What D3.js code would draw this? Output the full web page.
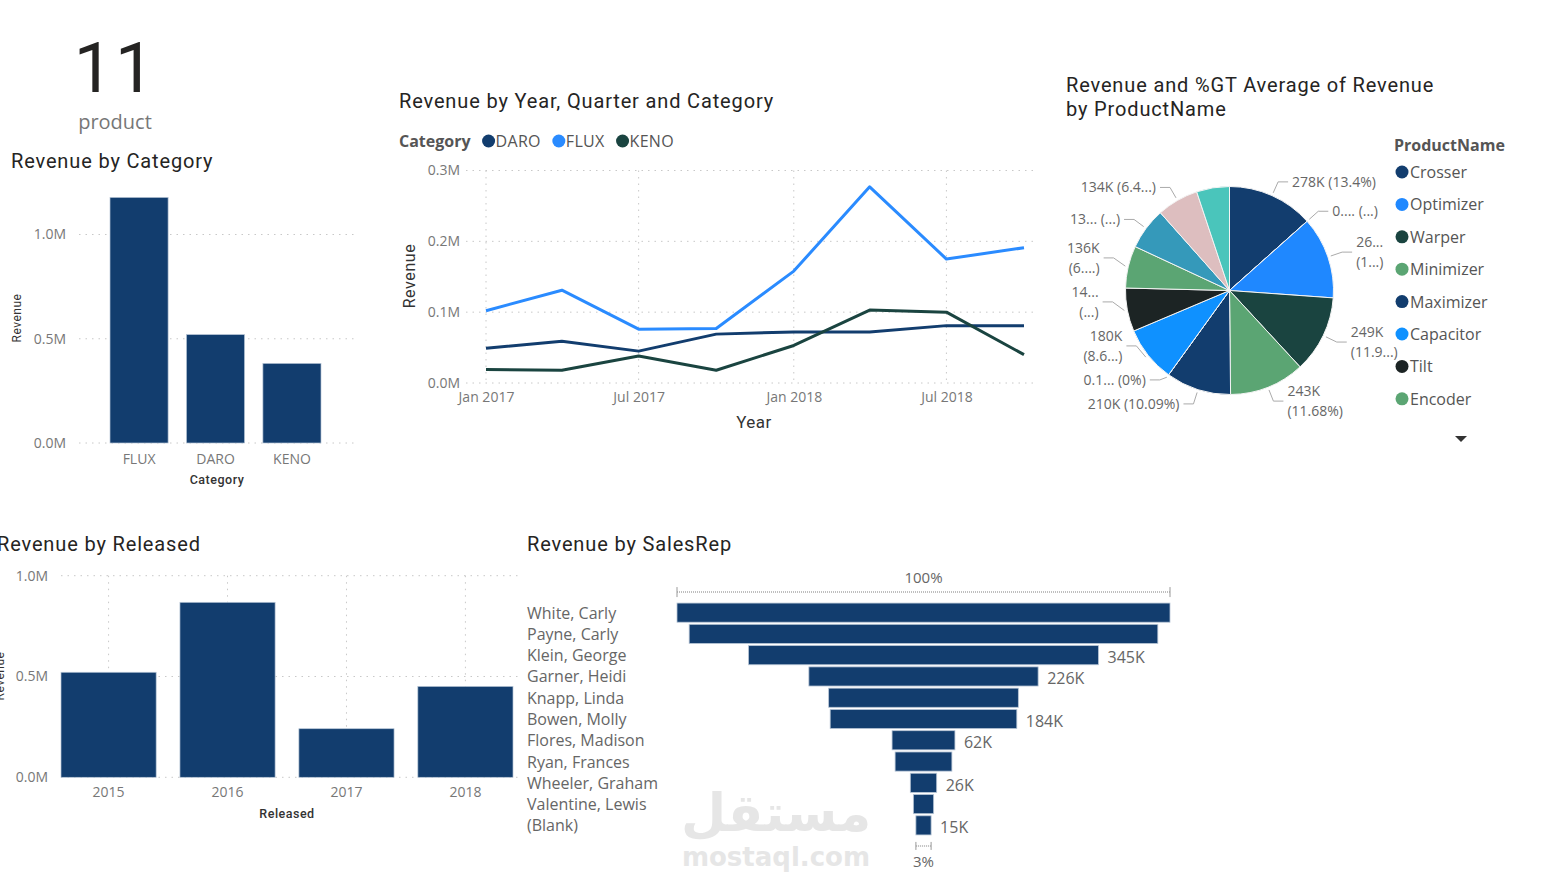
<!DOCTYPE html>
<html><head><meta charset="utf-8">
<script src="https://cdn.jsdelivr.net/npm/d3@7"></script>
<style>
body{margin:0;background:#fff;overflow:hidden}
svg{display:block}
text{font-family:"Open Sans",sans-serif}
.title{font-family:Roboto,sans-serif;font-size:20px;fill:#252423;letter-spacing:0.85px}
</style></head><body>
<svg id="c" width="1554" height="890"></svg>
<script>
// ---------- DATA ----------
const kpiValue = "11";
const kpiLabel = "product";

const categories = ["FLUX", "DARO", "KENO"];
const categoryRevenue = [1.178, 0.520, 0.382];          // M
const categoryTicks = [0, 0.5, 1.0];

const quarterDates = ["2017-01-01","2017-04-01","2017-07-01","2017-10-01","2018-01-01","2018-04-01","2018-07-01","2018-10-01"];
const lineSeriesNames = ["DARO", "FLUX", "KENO"];
const daroRevenue = [0.049, 0.059, 0.045, 0.069, 0.072, 0.072, 0.081, 0.081]; // M
const fluxRevenue = [0.102, 0.131, 0.076, 0.077, 0.158, 0.277, 0.175, 0.191];
const kenoRevenue = [0.019, 0.018, 0.038, 0.018, 0.053, 0.103, 0.100, 0.040];
const lineYTicks = [0, 0.1, 0.2, 0.3];
const lineXTicks = ["2017-01-01","2017-07-01","2018-01-01","2018-07-01"];

const productNames = ["Crosser","Product 12","Optimizer","Warper","Minimizer","Maximizer","Product 13","Capacitor","Tilt","Encoder","Product 9","Product 10","Product 11"];
const productRevenue = [278, 0.4, 264, 249, 243, 210, 0.15, 180, 140, 136, 135, 134, 106]; // K
const productLabels = ["278K (13.4%)", "0.... (...)", "26...|(1...)", "249K|(11.9...)", "243K|(11.68%)", "210K (10.09%)", "0.1... (0%)", "180K|(8.6...)", "14...|(...)", "136K|(6....)", "13... (...)", "134K (6.4...)", ""];
const productColors = ["#123D6E","#9aa5b1","#1F88FF","#1A4440","#5BA573","#123D6E","#9aa5b1","#0F91FF","#1C2424","#5BA573","#3599BA","#DDBEBF","#4AC5BB"];
const legendProducts = ["Crosser","Optimizer","Warper","Minimizer","Maximizer","Capacitor","Tilt","Encoder"];

const releasedYears = ["2015", "2016", "2017", "2018"];
const releasedRevenue = [0.521, 0.868, 0.241, 0.451];   // M
const releasedTicks = [0, 0.5, 1.0];

const salesReps = ["White, Carly","Payne, Carly","Klein, George","Garner, Heidi","Knapp, Linda","Bowen, Molly","Flores, Madison","Ryan, Frances","Wheeler, Graham","Valentine, Lewis","(Blank)"];
const repRevenue = [486, 462, 345, 226, 187, 184, 62, 56, 26, 20, 15]; // K
const repLabelShown = [false,false,true,true,false,true,true,false,true,false,true];

// ---------- STYLE ----------
const NAVY = "#123D6E";
const lineColors = {DARO:"#123D6E", FLUX:"#2A8BFF", KENO:"#1A4440"};
const GRID = "#c8c8c8";
const TICK = "#777";

const svg = d3.select("#c");
const fmtM = v => d3.format(".1f")(v) + "M";

function styleAxis(g, size){
  g.select(".domain").remove();
  g.selectAll(".tick line").remove();
  g.selectAll("text").attr("fill", TICK).style("font-size", size + "px").style("font-family","Open Sans");
}

// ---------- KPI ----------
svg.append("text").attr("x",115).attr("y",92).attr("text-anchor","middle")
  .style("font-family","Roboto").style("font-size","70px").style("letter-spacing","2px").attr("fill","#252423").text(kpiValue);
svg.append("text").attr("x",115).attr("y",129).attr("text-anchor","middle")
  .style("font-family","Open Sans").style("font-size","20px").attr("fill","#777").text(kpiLabel);

// ---------- Revenue by Category ----------
svg.append("text").attr("class","title").attr("x",11).attr("y",168).text("Revenue by Category");
{
  const x = d3.scaleBand().domain(categories).range([110,321]).paddingInner(0.24).paddingOuter(0);
  const y = d3.scaleLinear().domain([0,1]).range([443,234.5]);
  svg.append("g").selectAll("line").data(categoryTicks).join("line")
    .attr("x1",79).attr("x2",357).attr("y1",d=>y(d)).attr("y2",d=>y(d))
    .attr("stroke",GRID).attr("stroke-dasharray","1.5,5");
  svg.append("g").selectAll("rect").data(categories).join("rect")
    .attr("x",d=>x(d)).attr("width",x.bandwidth())
    .attr("y",(d,i)=>y(categoryRevenue[i])).attr("height",(d,i)=>y(0)-y(categoryRevenue[i]))
    .attr("fill",NAVY).attr("stroke","#b8c6d6").attr("stroke-width",0.7);
  const ya = svg.append("g").attr("transform","translate(70,0)")
    .call(d3.axisLeft(y).tickValues(categoryTicks).tickFormat(fmtM).tickSize(0).tickPadding(4));
  styleAxis(ya,14);
  const xa = svg.append("g").attr("transform","translate(0,450)")
    .call(d3.axisBottom(x).tickSize(0).tickPadding(4));
  styleAxis(xa,14);
  svg.append("text").attr("transform","translate(21,318) rotate(-90)").attr("text-anchor","middle")
    .style("font-family","Roboto").style("font-size","12px").style("letter-spacing","0.5px").attr("fill","#333").text("Revenue");
  svg.append("text").attr("x",217).attr("y",484).attr("text-anchor","middle")
    .style("font-family","Roboto").style("font-size","12.5px").style("font-weight","500").style("letter-spacing","0.5px").attr("fill","#333").text("Category");
}

// ---------- Line chart ----------
svg.append("text").attr("class","title").attr("x",399).attr("y",108).text("Revenue by Year, Quarter and Category");
{
  const parse = d3.timeParse("%Y-%m-%d");
  const dates = quarterDates.map(parse);
  const x = d3.scaleTime().domain([dates[0], dates[dates.length-1]]).range([486,1024]);
  const y = d3.scaleLinear().domain([0,0.3]).range([383,170.5]);
  const gx = lineXTicks.map(parse);
  svg.append("g").selectAll("line").data(lineYTicks).join("line")
    .attr("x1",466).attr("x2",1035).attr("y1",d=>y(d)).attr("y2",d=>y(d))
    .attr("stroke",GRID).attr("stroke-dasharray","1.5,5");
  svg.append("g").selectAll("line").data(gx).join("line")
    .attr("x1",d=>x(d)).attr("x2",d=>x(d)).attr("y1",y(0.3)).attr("y2",y(0))
    .attr("stroke",GRID).attr("stroke-dasharray","1.5,5");
  const ya = svg.append("g").attr("transform","translate(464,0)")
    .call(d3.axisLeft(y).tickValues(lineYTicks).tickFormat(fmtM).tickSize(0).tickPadding(4));
  styleAxis(ya,14);
  const xa = svg.append("g").attr("transform","translate(0,390)")
    .call(d3.axisBottom(x).tickValues(gx).tickFormat(d3.timeFormat("%b %Y")).tickSize(0).tickPadding(2));
  styleAxis(xa,14);
  const series = {DARO:daroRevenue, FLUX:fluxRevenue, KENO:kenoRevenue};
  const line = d3.line().x((d,i)=>x(dates[i])).y(d=>y(d));
  lineSeriesNames.forEach(n=>{
    svg.append("path").datum(series[n]).attr("d",line).attr("fill","none")
      .attr("stroke",lineColors[n]).attr("stroke-width",3).attr("stroke-linejoin","round");
  });
  svg.append("text").attr("transform","translate(415,276) rotate(-90)").attr("text-anchor","middle")
    .style("font-family","Roboto").style("font-size","16px").style("letter-spacing","0.6px").attr("fill","#333").text("Revenue");
  svg.append("text").attr("x",754).attr("y",428).attr("text-anchor","middle")
    .style("font-family","Roboto").style("font-size","17px").style("letter-spacing","0.5px").attr("fill","#333").text("Year");
  // legend
  const lg = svg.append("g");
  const lt = lg.append("text").attr("x",399).attr("y",141).attr("dominant-baseline","central")
    .style("font-size","16px").style("font-weight","700").attr("fill","#555").text("Category");
  let lx = 399 + lt.node().getComputedTextLength() + 12;
  lineSeriesNames.forEach(n=>{
    lg.append("circle").attr("cx",lx+6).attr("cy",141).attr("r",6.5).attr("fill",lineColors[n]);
    const t = lg.append("text").attr("x",lx+13).attr("y",141).attr("dominant-baseline","central")
      .style("font-size","16px").style("letter-spacing","0.3px").attr("fill","#555").text(n);
    lx += 13 + t.node().getComputedTextLength() + 12;
  });
}

// ---------- Pie ----------
svg.append("text").attr("class","title").attr("x",1066).attr("y",92).text("Revenue and %GT Average of Revenue");
svg.append("text").attr("class","title").attr("x",1066).attr("y",116).text("by ProductName");
{
  const cx = 1229.5, cy = 290.5, r = 104;
  const data = productNames.map((n,i)=>({name:n, v:productRevenue[i], label:productLabels[i], color:productColors[i]}));
  const arcs = d3.pie().sort(null).value(d=>d.v)(data);
  const arc = d3.arc().innerRadius(0).outerRadius(r);
  const g = svg.append("g").attr("transform",`translate(${cx},${cy})`);
  g.selectAll("path").data(arcs).join("path").attr("d",arc)
    .attr("fill",d=>d.data.color).attr("stroke","#f4f4f4").attr("stroke-width",1);

  // label layout with simple collision avoidance
  const labs = arcs.filter(a=>a.data.label).map(a=>{
    const m = (a.startAngle + a.endAngle)/2;
    const s = Math.sin(m), c = -Math.cos(m);
    const lines = a.data.label.split("|");
    return {m, s, c, side: s >= 0 ? 1 : -1, lines, h: lines.length*20,
            x2: s*(r+15), y: c*(r+15)};
  });
  const gap = 4;
  // right side: push down from top
  const right = labs.filter(l=>l.side>0).sort((a,b)=>a.y-b.y);
  for(let i=1;i<right.length;i++){
    const min = right[i-1].y + (right[i-1].h + right[i].h)/2 + gap;
    if(right[i].y < min) right[i].y = min;
  }
  // left side: push up from bottom
  const left = labs.filter(l=>l.side<0).sort((a,b)=>b.y-a.y);
  for(let i=1;i<left.length;i++){
    const max = left[i-1].y - (left[i-1].h + left[i].h)/2 - gap;
    if(left[i].y > max) left[i].y = max;
  }
  labs.forEach(l=>{
    const p1 = [l.s*(r+3), l.c*(r+3)];
    const p2 = [l.x2, l.y];
    const p3 = [p2[0] + l.side*10, p2[1]];
    g.append("polyline").attr("points",[p1,p2,p3].map(p=>p.join(",")).join(" "))
      .attr("fill","none").attr("stroke","#aaa").attr("stroke-width",1);
    const t = g.append("text").attr("text-anchor", l.side>0 ? "start" : "end")
      .style("font-size","14px").attr("fill","#666");
    l.lines.forEach((ln,i)=>{
      t.append("tspan").attr("x",p3[0] + l.side*4)
        .attr("y",p3[1] + (i - (l.lines.length-1)/2)*20 + 5).text(ln);
    });
  });
  // legend
  const lg = svg.append("g");
  lg.append("text").attr("x",1394).attr("y",145).attr("dominant-baseline","central")
    .style("font-size","16px").style("font-weight","700").attr("fill","#555").text("ProductName");
  legendProducts.forEach((n,i)=>{
    const yy = 172 + i*32.4;
    const col = productColors[productNames.indexOf(n)];
    lg.append("circle").attr("cx",1402).attr("cy",yy).attr("r",6.5).attr("fill",col);
    lg.append("text").attr("x",1410).attr("y",yy).attr("dominant-baseline","central")
      .style("font-size","16px").attr("fill","#555").text(n);
  });
  lg.append("path").attr("d","M1455,436 L1467,436 L1461,442 Z").attr("fill","#333");
}

// ---------- Revenue by Released ----------
svg.append("text").attr("class","title").attr("x",-3).attr("y",551).text("Revenue by Released");
{
  const x = d3.scaleBand().domain(releasedYears).range([61,513]).paddingInner(0.2).paddingOuter(0);
  const y = d3.scaleLinear().domain([0,1]).range([777.3,575.7]);
  svg.append("g").selectAll("line").data(releasedTicks).join("line")
    .attr("x1",61).attr("x2",520).attr("y1",d=>y(d)).attr("y2",d=>y(d))
    .attr("stroke",GRID).attr("stroke-dasharray","1.5,5");
  svg.append("g").selectAll("line").data(releasedYears).join("line")
    .attr("x1",d=>x(d)+x.bandwidth()/2).attr("x2",d=>x(d)+x.bandwidth()/2)
    .attr("y1",y(1)).attr("y2",y(0))
    .attr("stroke",GRID).attr("stroke-dasharray","1.5,5");
  svg.append("g").selectAll("rect").data(releasedYears).join("rect")
    .attr("x",d=>x(d)).attr("width",x.bandwidth())
    .attr("y",(d,i)=>y(releasedRevenue[i])).attr("height",(d,i)=>y(0)-y(releasedRevenue[i]))
    .attr("fill",NAVY).attr("stroke","#b8c6d6").attr("stroke-width",0.7);
  const ya = svg.append("g").attr("transform","translate(52,0)")
    .call(d3.axisLeft(y).tickValues(releasedTicks).tickFormat(fmtM).tickSize(0).tickPadding(4));
  styleAxis(ya,14);
  const xa = svg.append("g").attr("transform","translate(0,785)")
    .call(d3.axisBottom(x).tickSize(0).tickPadding(2));
  styleAxis(xa,14);
  svg.append("text").attr("transform","translate(4,676) rotate(-90)").attr("text-anchor","middle")
    .style("font-family","Roboto").style("font-size","12px").style("letter-spacing","0.5px").attr("fill","#333").text("Revenue");
  svg.append("text").attr("x",287).attr("y",818).attr("text-anchor","middle")
    .style("font-family","Roboto").style("font-size","12.5px").style("font-weight","500").style("letter-spacing","0.5px").attr("fill","#333").text("Released");
}

// ---------- Funnel ----------
svg.append("text").attr("class","title").attr("x",527).attr("y",551).text("Revenue by SalesRep");
{
  // watermark
  svg.append("text").attr("x",776).attr("y",831).attr("text-anchor","middle")
    .style("font-family","DejaVu Sans").style("font-weight","700").style("font-size","52px")
    .attr("fill","#e6e6e6").text("مستقل");
  svg.append("text").attr("x",776).attr("y",866).attr("text-anchor","middle")
    .style("font-family","DejaVu Sans").style("font-weight","700").style("font-size","26px")
    .attr("fill","#e6e6e6").text("mostaql.com");

  const cxF = 923.5;
  const w = d3.scaleLinear().domain([0, d3.max(repRevenue)]).range([0,493]);
  const y = d3.scaleBand().domain(salesReps).range([602,836]).paddingInner(0.1).paddingOuter(0.05);
  svg.append("g").selectAll("rect").data(salesReps).join("rect")
    .attr("x",(d,i)=>cxF - w(repRevenue[i])/2).attr("width",(d,i)=>w(repRevenue[i]))
    .attr("y",d=>y(d)).attr("height",y.bandwidth())
    .attr("fill",NAVY).attr("stroke","#b8c6d6").attr("stroke-width",0.8);
  svg.append("g").selectAll("text").data(salesReps).join("text")
    .attr("x",527).attr("y",d=>y(d)+y.bandwidth()/2).attr("dominant-baseline","central")
    .style("font-size","16px").attr("fill","#666").text(d=>d);
  svg.append("g").selectAll("text").data(salesReps.filter((d,i)=>repLabelShown[i])).join("text")
    .attr("x",d=>cxF + w(repRevenue[salesReps.indexOf(d)])/2 + 9)
    .attr("y",d=>y(d)+y.bandwidth()/2 + 2).attr("dominant-baseline","central")
    .style("font-size","16px").attr("fill","#666")
    .text(d=>d3.format(".0f")(repRevenue[salesReps.indexOf(d)]) + "K");
  const bracket = (x0,x1,yy,h)=>{
    svg.append("line").attr("x1",x0).attr("x2",x1).attr("y1",yy).attr("y2",yy).attr("stroke","#aaa").attr("stroke-width",1.5).attr("stroke-dasharray","1,1");
    svg.append("line").attr("x1",x0).attr("x2",x0).attr("y1",yy-h).attr("y2",yy+h).attr("stroke","#999");
    svg.append("line").attr("x1",x1).attr("x2",x1).attr("y1",yy-h).attr("y2",yy+h).attr("stroke","#999");
  };
  const topW = w(repRevenue[0]);
  const by = y(salesReps[0]) - 11;
  bracket(cxF-topW/2, cxF+topW/2, by, 5);
  svg.append("text").attr("x",cxF).attr("y",by-9).attr("text-anchor","middle")
    .style("font-size","15px").attr("fill","#666")
    .text(d3.format(".0%")(repRevenue[0]/repRevenue[0]));
  const last = repRevenue[repRevenue.length-1];
  const lw = w(last);
  const bby = y(salesReps[salesReps.length-1]) + y.bandwidth() + 11;
  bracket(cxF-lw/2, cxF+lw/2, bby, 4);
  svg.append("text").attr("x",cxF).attr("y",bby+21).attr("text-anchor","middle")
    .style("font-size","15px").attr("fill","#666")
    .text(d3.format(".0%")(last/repRevenue[0]));
}
</script>
</body></html>
